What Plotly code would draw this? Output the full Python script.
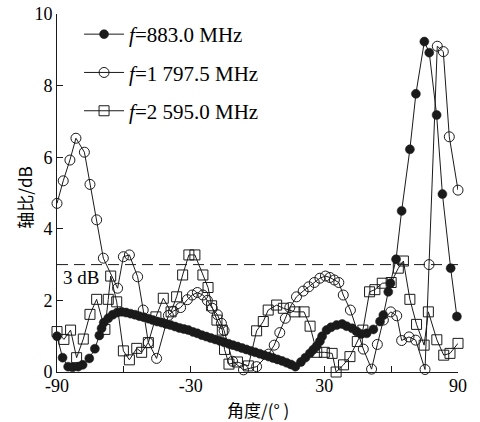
import plotly.graph_objects as go

# 883.0 MHz (filled circles)
f1_x = [-90, -87.5, -85, -83, -80.5, -78.5, -75.5, -73, -71, -70, -69, -67, -65, -63, -61, -59, -57, -55,
        -53, -51, -49, -47, -45, -43, -41, -39, -37, -35, -33, -31, -29, -27, -25, -23, -21, -19, -17, -15,
        -13, -11, -9, -7, -5, -3, -1, 1, 3, 5, 7, 9, 11, 13, 15, 17, 19.5, 21.5, 23.5, 25, 26.5, 28, 29,
        31, 33, 35.5, 38, 40, 42.5, 44.5, 46.5, 49, 52, 55, 56.5, 58.7, 59.7, 62.2, 64.7, 68.4, 71.1,
        74.9, 77.1, 80.4, 83, 86.7, 89.5]
f1_y = [1.0, 0.4, 0.15, 0.13, 0.15, 0.2, 0.38, 0.65, 1.02, 1.22, 1.38, 1.5, 1.6, 1.66, 1.68, 1.66, 1.63, 1.6,
        1.56, 1.53, 1.49, 1.45, 1.41, 1.38, 1.34, 1.31, 1.27, 1.23, 1.2, 1.17, 1.12, 1.08, 1.03, 0.99, 0.95,
        0.91, 0.87, 0.83, 0.79, 0.75, 0.71, 0.67, 0.63, 0.59, 0.55, 0.51, 0.47, 0.43, 0.39, 0.35, 0.31, 0.26,
        0.21, 0.15, 0.28, 0.4, 0.52, 0.62, 0.72, 0.86, 1.0, 1.17, 1.25, 1.31, 1.34, 1.28, 1.22, 1.13, 1.06,
        1.08, 1.19, 1.41, 1.59, 2.24, 2.48, 3.15, 4.5, 6.22, 7.77, 9.23, 8.92, 7.18, 4.97, 2.9, 1.55]

# 1797.5 MHz (open circles)
f2_x = [-90, -87.2, -84.2, -81.5, -77.7, -75.2, -72.2, -69.2, -62.8, -60.2, -57.5, -53.8, -51.3, -49, -45.3,
        -40, -37.8, -34.5, -31.5, -29.3, -27, -24.5, -22.5, -20.3, -18, -16.2, -15, -11.2, -6.3, -0.4,
        5, 7.5, 10, 12.5, 14.5, 17.5, 20.5, 23, 25.5, 28, 30.5, 32.5, 34.5, 36.5, 38.5, 41.7, 47.5, 51.2,
        53.8, 56.5, 59.8, 62.5, 64.7, 68, 71, 75.2, 77, 80.7, 83.4, 86.1, 90]
f2_y = [4.71, 5.34, 5.92, 6.53, 6.14, 5.24, 4.25, 3.18, 2.34, 3.22, 3.27, 2.66, 1.73, 0.82, 0.38,
        1.58, 1.7, 1.8, 2.02, 2.15, 2.22, 2.15, 2.0, 1.78, 1.6, 1.36, 1.16, 0.3, 0.06, 0.15,
        0.5, 0.75, 1.1, 1.5, 1.8, 2.1, 2.26, 2.38, 2.5, 2.62, 2.68, 2.64, 2.57, 2.5, 2.15, 1.73, 0.64, 0.08,
        0.77, 1.45, 1.68, 1.57, 0.88, 0.98, 0.89, 0.07, 3.0, 9.1, 8.95, 6.57, 5.08]

# 2595.0 MHz (open squares)
f3_x = [-90, -86.9, -83.9, -81.2, -78.2, -75.2, -72.2, -68.5, -67, -65.9, -63.2, -60.2, -57.5, -54.2, -52,
        -49, -45.6, -42.3, -38.8, -36.3, -33.6, -30.8, -28.1, -24.5, -22.2, -20.6, -18.2, -15.8, -14.8,
        -12.8, -9, -4.1, -0.4, 2.6, 4.8, 8.6, 11.6, 16.8, 20.9, 23.6, 26.6, 30, 33.5, 35.3, 38.6, 41.5,
        44.8, 47.3, 50.3, 52.7, 56, 60, 63.2, 65.5, 68.4, 71.4, 74.8, 76.7, 80.5, 83.6, 86.4, 90]
f3_y = [1.13, 0.91, 1.17, 0.4, 0.92, 1.61, 2.03, 1.19, 2.03, 2.68, 1.96, 0.59, 0.34, 0.66, 0.55,
        0.82, 1.54, 2.06, 1.68, 2.1, 2.71, 3.27, 3.27, 2.71, 2.36, 1.85, 1.45, 1.17, 0.63,
        0.22, 0.28, 0.17, 1.15, 1.41, 1.73, 1.87, 1.78, 1.68, 1.68, 1.28, 0.55, 0.55, 0.52, 0.0, 0.2, 0.43,
        0.85, 1.17, 2.24, 2.3, 2.48, 2.5, 2.9, 3.1, 2.03, 1.33, 0.75, 1.68, 0.9, 0.47, 0.52, 0.8]

x_tickvals = [-90, -60, -30, 0, 30, 60, 90]
x_ticktext = ["-90", "", "-30", "", "30", "", "90"]
y_tickvals = [0, 2, 4, 6, 8, 10]
y_ticktext = ["0", "2", "4", "6", "8", "10"]

names = ["<i>f</i>=883.0 MHz", "<i>f</i>=1 797.5 MHz", "<i>f</i>=2 595.0 MHz"]
threshold = 3
x_title = "角度/(° )"
y_title = "轴比/dB"
threshold_label = "3 dB"

SERIF = "Liberation Serif, Times New Roman, serif"
CJK = "Noto Sans CJK SC, sans-serif"
LC = "#1a1a1a"

fig = go.Figure()
fig.add_trace(go.Scatter(x=f1_x, y=f1_y, mode="lines+markers", name=names[0], legendgroup="a",
                         line=dict(color=LC, width=1),
                         marker=dict(symbol="circle", size=9, color=LC, line=dict(color=LC, width=0.5)),
                         cliponaxis=False))
fig.add_trace(go.Scatter(x=f2_x, y=f2_y, mode="lines+markers", name=names[1], legendgroup="b",
                         line=dict(color=LC, width=1),
                         marker=dict(symbol="circle-open", size=10, color=LC, line=dict(color=LC, width=1)),
                         cliponaxis=False))
fig.add_trace(go.Scatter(x=f3_x, y=f3_y, mode="lines+markers", name=names[2], legendgroup="c",
                         line=dict(color=LC, width=1),
                         marker=dict(symbol="square-open", size=10, color=LC, line=dict(color=LC, width=1)),
                         cliponaxis=False))

fig.add_shape(type="line", xref="x", yref="y", x0=-90, x1=90, y0=threshold, y1=threshold,
              line=dict(color=LC, width=1, dash="11px,6px"))
fig.add_annotation(x=-88, y=2.65, xref="x", yref="y", text=threshold_label, showarrow=False,
                   xanchor="left", yanchor="middle", font=dict(family=SERIF, size=19, color="black"))

# axis titles as annotations
fig.add_annotation(x=0.5, y=-0.106, xref="paper", yref="paper", text=x_title, showarrow=False,
                   xanchor="center", yanchor="middle", font=dict(family=CJK, size=17, color="black"))
fig.add_annotation(x=-0.083, y=0.486, xref="paper", yref="paper", text=y_title, showarrow=False,
                   textangle=-90, xanchor="center", yanchor="middle",
                   font=dict(family=CJK, size=17, color="black"))

fig.update_layout(
    width=480, height=422,
    margin=dict(l=57, r=22, t=14, b=50, autoexpand=False),
    paper_bgcolor="white", plot_bgcolor="white",
    showlegend=True,
    legend=dict(x=0.055, y=1.0, xanchor="left", yanchor="top", bgcolor="rgba(0,0,0,0)",
                font=dict(family=SERIF, size=21, color="black"),
                traceorder="grouped", tracegroupgap=8, itemwidth=40),
    xaxis=dict(range=[-90, 90], tickvals=x_tickvals, ticktext=x_ticktext, ticks="inside", ticklen=6,
               tickcolor=LC, showline=True, linecolor=LC, linewidth=1, showgrid=False, zeroline=False,
               automargin=False, ticklabelstandoff=-3,
               tickfont=dict(family=SERIF, size=18, color="black")),
    yaxis=dict(range=[0, 10], tickvals=y_tickvals, ticktext=y_ticktext, ticks="inside", ticklen=6,
               tickcolor=LC, showline=True, linecolor=LC, linewidth=1, showgrid=False, zeroline=False,
               automargin=False, tickfont=dict(family=SERIF, size=18, color="black")),
)

fig.write_html("out.html", config={"displayModeBar": False},
               post_script="document.body.style.margin='0';document.body.style.padding='0';")
